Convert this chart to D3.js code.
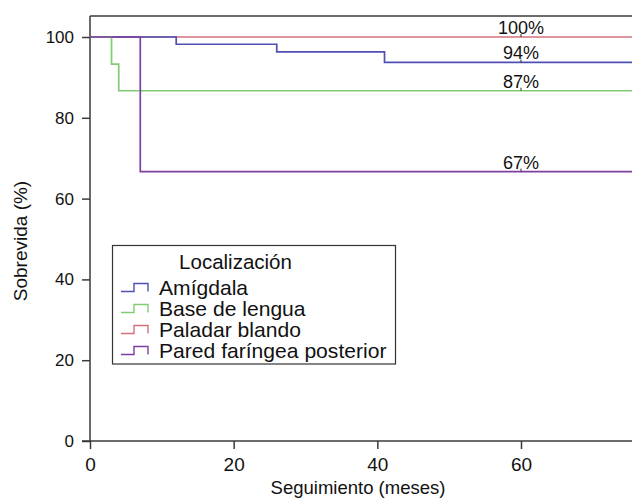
<!DOCTYPE html>
<html>
<head>
<meta charset="utf-8">
<script src="https://cdn.jsdelivr.net/npm/d3@7/dist/d3.min.js"></script>
<style>
  html, body { margin: 0; padding: 0; background: #fff; }
  svg { display: block; font-family: "Liberation Sans", Arial, Helvetica, sans-serif; }
</style>
</head>
<body>
<svg id="chart" width="632" height="498"></svg>
<script>
// Kaplan-Meier survival by tumour location (step times in months, survival in %)
const groups = ["Amígdala", "Base de lengua", "Paladar blando", "Pared faríngea posterior"];
const colors = ["#4f4fb3", "#80cc72", "#d2707c", "#7e3f9f"];
const stepTimes = [
  [0, 12, 26, 41],
  [0, 3, 4],
  [0],
  [0, 7]
];
const stepSurvival = [
  [100, 98.2, 96.3, 93.7],
  [100, 93.3, 86.7],
  [100],
  [100, 66.7]
];
const endLabels = ["94%", "87%", "100%", "67%"];
const labelTime = 60;
const xTicks = [0, 20, 40, 60];
const yTicks = [0, 20, 40, 60, 80, 100];
const followUpEnd = 76;

const svg = d3.select("#chart");
const axisColor = "#3a3a3a";

const x = d3.scaleLinear().domain([0, 60]).range([90, 521]);
const y = d3.scaleLinear().domain([0, 100]).range([441, 37]);
const yTop = 16;
const xRight = x(followUpEnd);

// frame: top border
svg.append("line")
  .attr("x1", x(0)).attr("x2", xRight)
  .attr("y1", yTop).attr("y2", yTop)
  .attr("stroke", axisColor).attr("stroke-width", 1.5);

// y axis
const yAxis = d3.axisLeft(y).tickValues(yTicks).tickSize(8).tickPadding(8).tickSizeOuter(0);
const gy = svg.append("g").attr("transform", `translate(${x(0)},0)`).call(yAxis);
gy.select(".domain").remove();
gy.append("line").attr("x1", 0).attr("x2", 0).attr("y1", yTop).attr("y2", y(0))
  .attr("stroke", axisColor).attr("stroke-width", 1.5);
gy.selectAll(".tick line").attr("stroke", axisColor).attr("stroke-width", 1.5);
gy.selectAll(".tick text").attr("fill", "#111").style("font-size", "17px")
  .style("font-family", "'Liberation Sans', Arial, sans-serif");

// x axis
const xAxis = d3.axisBottom(x).tickValues(xTicks).tickSize(8).tickPadding(9).tickSizeOuter(0);
const gx = svg.append("g").attr("transform", `translate(0,${y(0)})`).call(xAxis);
gx.select(".domain").remove();
gx.append("line").attr("x1", x(0) - 8).attr("x2", xRight).attr("y1", 0).attr("y2", 0)
  .attr("stroke", axisColor).attr("stroke-width", 1.5);
gx.selectAll(".tick line").attr("stroke", axisColor).attr("stroke-width", 1.5);
gx.selectAll(".tick text").attr("fill", "#111").style("font-size", "19px")
  .style("font-family", "'Liberation Sans', Arial, sans-serif");

// axis titles
svg.append("text")
  .attr("x", 358).attr("y", 494)
  .attr("text-anchor", "middle").attr("fill", "#111")
  .style("font-size", "18.5px")
  .text("Seguimiento (meses)");
svg.append("text")
  .attr("transform", `translate(27,241) rotate(-90)`)
  .attr("text-anchor", "middle").attr("fill", "#111")
  .style("font-size", "19px")
  .text("Sobrevida (%)");

// survival curves; the flat curve goes first so the others sit over it
const line = d3.line().curve(d3.curveStepAfter).x(d => x(d[0])).y(d => y(d[1]));
const drawOrder = [2, 0, 1, 3];
drawOrder.forEach(i => {
  const pts = stepTimes[i].map((t, k) => [t, stepSurvival[i][k]]);
  pts.push([followUpEnd, stepSurvival[i][stepSurvival[i].length - 1]]);
  svg.append("path")
    .attr("d", line(pts))
    .attr("fill", "none")
    .attr("stroke", colors[i])
    .attr("stroke-width", 1.7);
});

// end-of-follow-up survival labels with censor ticks
groups.forEach((g, i) => {
  const last = stepSurvival[i][stepSurvival[i].length - 1];
  const ly = y(last);
  svg.append("line")
    .attr("x1", x(labelTime)).attr("x2", x(labelTime))
    .attr("y1", ly - 3).attr("y2", ly)
    .attr("stroke", "#333").attr("stroke-width", 1);
  svg.append("text")
    .attr("x", x(labelTime)).attr("y", ly - 3)
    .attr("text-anchor", "middle").attr("fill", "#111")
    .style("font-size", "18px")
    .text(endLabels[i]);
});

// legend
const lg = svg.append("g");
lg.append("rect")
  .attr("x", 112.5).attr("y", 245.5).attr("width", 283).attr("height", 118.5)
  .attr("fill", "#fff").attr("stroke", "#333").attr("stroke-width", 1.2);
lg.append("text")
  .attr("x", 235.5).attr("y", 269)
  .attr("text-anchor", "middle").attr("fill", "#111")
  .style("font-size", "20.5px")
  .text("Localización");
groups.forEach((g, i) => {
  const cy = 287.5 + i * 21;
  const key = d3.path();
  key.moveTo(121, cy + 4);
  key.lineTo(134, cy + 4);
  key.lineTo(134, cy - 4);
  key.lineTo(148, cy - 4);
  key.lineTo(148, cy + 4);
  lg.append("path").attr("d", key.toString())
    .attr("fill", "none").attr("stroke", colors[i]).attr("stroke-width", 1.4);
  lg.append("text")
    .attr("transform", `translate(159,${cy + 7}) scale(1.055,1)`)
    .attr("fill", "#111")
    .style("font-size", "20px")
    .text(g);
});
</script>
</body>
</html>
